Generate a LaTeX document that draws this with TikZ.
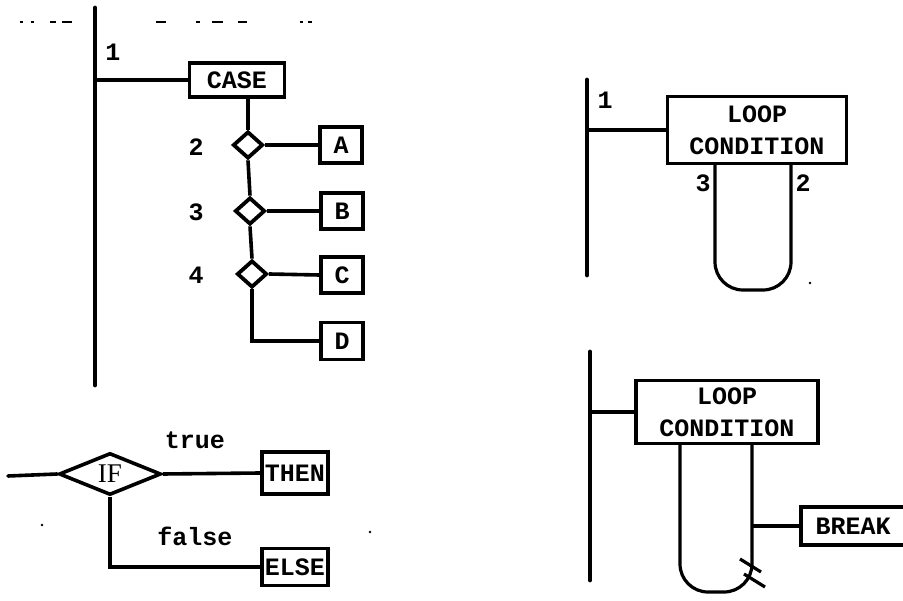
\documentclass[tikz,border=0pt]{standalone}
\usepackage{fontspec}
\setmainfont{Liberation Mono}
\newfontfamily\romfont{Liberation Serif}
\usetikzlibrary{shapes.geometric}

\begin{document}
\begin{tikzpicture}[x=1pt, y=-1pt,
    lbl/.style={font=\bfseries\fontsize{25}{32}\selectfont, inner sep=0pt},
    box/.style={draw, line width=3.4pt, lbl, align=center},
    dmd/.style={draw, diamond, line width=3.8pt, inner sep=0pt,
      minimum width=30pt, minimum height=27pt},
    wire/.style={line width=3.6pt},
    bar/.style={line width=4.8pt, line cap=round},
    leg/.style={line width=3.2pt}]
  \useasboundingbox (0,0) rectangle (903,601);
  % stray marks of the scan
  \foreach \a/\b in {20/23,31/34,50/56,62/72,156/166,196/200,212/223,238/247,300/303,308/312}
    \draw[line width=1.8pt] (\a,22) -- (\b,22);
  \foreach \p in {(42,525),(370,532),(810,283)}
    \fill \p circle (1.4pt);

  % case
  \coordinate (bara) at (95,8);
  \coordinate (barb) at (95,385);
  \draw[bar] (bara) -- (barb);
  \node[lbl] (one) at (113,52) {1};
  \node[box, minimum width=95pt, minimum height=34pt] (case) at (237,80) {CASE};
  \node[dmd] (d2) at (248,145) {};
  \node[dmd] (d3) at (250,211) {};
  \node[dmd] (d4) at (252,274) {};
  \node[lbl] (n2) at (196,147) {2};
  \node[lbl] (n3) at (196,212) {3};
  \node[lbl] (n4) at (196,275) {4};
  \node[box, minimum width=42pt, minimum height=36pt] (ca) at (341,145) {A};
  \node[box, minimum width=42pt, minimum height=36pt] (cb) at (342,211) {B};
  \node[box, minimum width=42pt, minimum height=36pt] (cc) at (342,275) {C};
  \node[box, minimum width=42pt, minimum height=37pt] (cd) at (342,341) {D};
  \draw[wire] (case.west -| bara) -- (case.west);
  \draw[wire] (d2.north |- case.south) -- (d2.north);
  \draw[wire] (d2.south) -- (d3.north);
  \draw[wire] (d3.south) -- (d4.north);
  \draw[wire] (d4.south) |- (cd.west);
  \draw[wire] (d2.east) -- (ca.west);
  \draw[wire] (d3.east) -- (cb.west);
  \draw[wire] (d4.east) -- (cc.west);

  % if
  \coordinate (ifin) at (8,476);
  \node[draw, diamond, line width=3.6pt, inner sep=0pt, minimum width=102pt,
    minimum height=42pt, font=\romfont\fontsize{27}{30}\selectfont] (ifd) at (110,474) {IF};
  \node[box, minimum width=66pt, minimum height=42pt] (then) at (295,473) {THEN};
  \node[box, minimum width=66pt, minimum height=37pt] (else) at (295,567) {ELSE};
  \node[lbl] (tru) at (195,440) {true};
  \node[lbl] (fls) at (195,536) {false};
  \draw[wire, line cap=round] (ifin) -- (ifd.west);
  \draw[wire] (ifd.east) -- (then.west);
  \draw[wire] (ifd.south) |- (else.west);

  % loop
  \coordinate (barc) at (587,80);
  \coordinate (bard) at (587,275);
  \draw[bar] (barc) -- (bard);
  \node[lbl] (one2) at (605,100) {1};
  \node[box, minimum width=179pt, minimum height=67pt] (loopa) at (757,130) {LOOP\\CONDITION};
  \node[lbl] (n3b) at (703,183) {3};
  \node[lbl] (n2b) at (803,183) {2};
  \draw[wire] (loopa.west -| barc) -- (loopa.west);
  \draw[leg, rounded corners=28pt] (715,163) -- (715,290) -- (791,290) -- (791,163);

  % loop with break
  \coordinate (bare) at (590,352);
  \coordinate (barf) at (590,580);
  \draw[bar] (bare) -- (barf);
  \node[box, minimum width=182pt, minimum height=63pt] (loopb) at (727,412) {LOOP\\CONDITION};
  \node[box, minimum width=104pt, minimum height=38pt] (brk) at (853,526) {BREAK};
  \coordinate (join) at (752,526);
  \draw[wire] (loopb.west -| bare) -- (loopb.west);
  \draw[leg, rounded corners=28pt] (680,443) -- (680,592) -- (752,592) -- (752,443);
  \draw[wire] (join) -- (brk.west);
  \draw[leg] (740,559) -- (761,572);
  \draw[leg] (744,574) -- (765,587);
\end{tikzpicture}
\end{document}
